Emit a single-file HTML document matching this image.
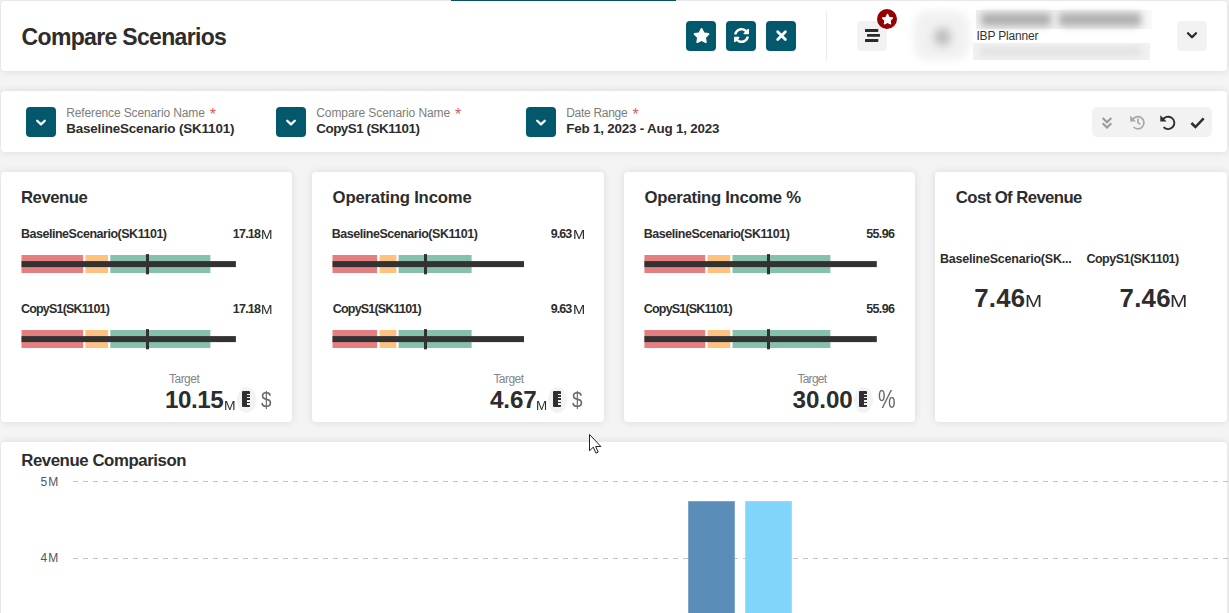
<!DOCTYPE html>
<html lang="en">
<head>
<meta charset="utf-8">
<title>Compare Scenarios</title>
<style>
*{box-sizing:border-box;margin:0;padding:0}
html,body{width:1229px;height:613px;overflow:hidden}
body{background:#f5f4f4;font-family:"Liberation Sans",sans-serif;color:#2d2d2d;position:relative}
.card{position:absolute;background:#fff;border-radius:4px;box-shadow:0 0 8px rgba(0,0,0,.11)}
.abs{position:absolute}
.t{position:absolute;white-space:nowrap;line-height:1}
.btn{position:absolute;width:30px;height:30px;border-radius:4px;background:#04586c}
.gbtn{position:absolute;width:30px;height:30px;border-radius:4px;background:#f2f2f2}
svg{position:absolute;left:0;top:0;overflow:visible}
.red{background:#e57f7f}.org{background:#ffc180}.grn{background:#85c1ab}
.r{position:absolute;height:18px}
.bar{position:absolute;height:6px;background:#323232}
.mk{position:absolute;width:3px;height:20px;background:#323232}
.ic{position:absolute;width:19px;height:26px;border-radius:9.5px/13px;background:#f3f3f3}
.ic b{position:absolute;left:5px;top:4px;width:8.4px;height:16.2px;background:#2f2f2f;border-radius:1px}
.ic i{position:absolute;left:9.9px;width:3.6px;height:1.5px;background:#f3f3f3}
.ast{position:absolute;white-space:nowrap;line-height:1;font-size:16px;color:#dc5a56}
</style>
</head>
<body>
<!-- top tab indicator -->
<div class="abs" style="left:451px;top:0;width:225px;height:1.5px;background:#04586c"></div>
<!-- header card -->
<div class="card" style="left:1px;top:1px;width:1226px;height:70px"></div>
<div class="btn" style="left:686px;top:21px"><svg width="30" height="30" viewBox="0 0 30 30"><g transform="translate(7.1,7.05) scale(0.0293)"><path fill="#fff" d="M259.3 17.8L194 150.2 47.9 171.5c-26.2 3.8-36.700 36.100-17.700 54.600l105.700 103-25 145.500c-4.500 26.300 23.200 46 46.400 33.700L288 439.600l130.700 68.700c23.200 12.200 50.900-7.400 46.400-33.700l-25-145.500 105.700-103c19-18.500 8.500-50.800-17.700-54.600L382 150.200 316.700 17.800c-11.700-23.600-45.600-23.900-57.400 0z"/></g></svg></div>
<div class="btn" style="left:726px;top:21px"><svg width="30" height="30" viewBox="0 0 30 30"><g transform="translate(7.75,6.75) scale(0.0303)"><path fill="#fff" d="M370.72 133.28C339.458 104.008 298.888 87.962 255.848 88c-77.458.068-144.328 53.178-162.791 126.850-1.344 5.363-6.122 9.150-11.651 9.150H24.103c-7.498 0-13.194-6.807-11.807-14.176C33.933 94.924 134.813 8 256 8c66.448 0 126.791 26.136 171.315 68.685L463.030 40.970C478.149 25.851 504 36.559 504 57.941V192c0 13.255-10.745 24-24 24H345.941c-21.382 0-32.090-25.851-16.971-40.971l41.750-41.749zM32 296h134.059c21.382 0 32.090 25.851 16.971 40.971l-41.750 41.750c31.262 29.273 71.835 45.319 114.876 45.280 77.418-.070 144.315-53.144 162.787-126.849 1.344-5.363 6.122-9.150 11.651-9.150h57.304c7.498 0 13.194 6.807 11.807 14.176C478.067 417.076 377.187 504 256 504c-66.448 0-126.791-26.136-171.315-68.685L48.970 471.030C33.851 486.149 8 475.441 8 454.059V320c0-13.255 10.745-24 24-24z"/></g></svg></div>
<div class="btn" style="left:766px;top:21px"><svg width="30" height="30" viewBox="0 0 30 30"><path d="M11.700 10.800L19.400 18.500M19.400 10.800L11.700 18.500" stroke="#fff" stroke-width="2.800" stroke-linecap="round" fill="none"/></svg></div>
<div class="abs" style="left:826px;top:11px;width:1px;height:50px;background:#ececec"></div>
<div class="gbtn" style="left:857px;top:21px"><svg width="30" height="30" viewBox="0 0 30 30"><rect x="8" y="8" width="13.300" height="2.900" rx=".5" fill="#2b2b2b"/><rect x="10" y="12.950" width="13" height="2.900" rx=".5" fill="#2b2b2b"/><rect x="8" y="18.100" width="13.300" height="2.900" rx=".5" fill="#2b2b2b"/></svg></div>
<div class="abs" style="left:877px;top:9px;width:20px;height:20px;border-radius:10px;background:#960000"><svg width="20" height="20" viewBox="0 0 20 20"><g transform="translate(4.460,4.750) scale(0.0210)"><path fill="#fff" d="M259.3 17.8L194 150.2 47.9 171.5c-26.2 3.8-36.700 36.100-17.700 54.600l105.700 103-25 145.500c-4.500 26.300 23.200 46 46.400 33.700L288 439.600l130.700 68.700c23.200 12.200 50.900-7.400 46.400-33.700l-25-145.500 105.700-103c19-18.500 8.500-50.800-17.700-54.600L382 150.200 316.700 17.800c-11.700-23.600-45.600-23.900-57.400 0z"/></g></svg></div>
<div class="abs" style="left:914px;top:11px;width:55px;height:49px;border-radius:14px;background:#f1f1f1;filter:blur(4px)"></div>
<div class="abs" style="left:934px;top:28px;width:17px;height:18px;border-radius:9px;background:#bcbfbd;filter:blur(4px)"></div>
<div class="abs" style="left:976px;top:10px;width:176px;height:18.500px;background:linear-gradient(90deg,#efefef 0,#efefef 92%,#fafafa 100%)"></div>
<div class="abs" style="left:981px;top:13px;width:70px;height:13px;background:#b0b0b0;filter:blur(3.500px);border-radius:4px"></div>
<div class="abs" style="left:1059px;top:13px;width:82px;height:13px;background:#b0b0b0;filter:blur(3.500px);border-radius:4px"></div>
<div class="abs" style="left:973px;top:43px;width:177px;height:16.500px;background:#f1f1f1"></div>
<div class="abs" style="left:980px;top:47px;width:162px;height:9px;background:#e2e2e2;filter:blur(3px);border-radius:3px"></div>
<div class="gbtn" style="left:1177px;top:21px"><svg width="30" height="30" viewBox="0 0 30 30"><path d="M11 12.200L15 16.200L19 12.200" stroke="#2b2b2b" stroke-width="2.300" stroke-linecap="round" stroke-linejoin="round" fill="none"/></svg></div>
<!-- filter card -->
<div class="card" style="left:1px;top:91px;width:1226px;height:61px"></div>
<div class="btn" style="left:26px;top:107px"><svg width="30" height="30" viewBox="0 0 30 30"><path d="M11.200 13.700L15 17.400L18.800 13.700" stroke="#fff" stroke-width="2.200" stroke-linecap="round" stroke-linejoin="round" fill="none"/></svg></div>
<div class="btn" style="left:276px;top:107px"><svg width="30" height="30" viewBox="0 0 30 30"><path d="M11.200 13.700L15 17.400L18.800 13.700" stroke="#fff" stroke-width="2.200" stroke-linecap="round" stroke-linejoin="round" fill="none"/></svg></div>
<div class="btn" style="left:526px;top:107px"><svg width="30" height="30" viewBox="0 0 30 30"><path d="M11.200 13.700L15 17.400L18.800 13.700" stroke="#fff" stroke-width="2.200" stroke-linecap="round" stroke-linejoin="round" fill="none"/></svg></div>
<div class="ast" style="left:209.70000000000002px;top:106.500px">*</div>
<div class="ast" style="left:455.0px;top:106.500px">*</div>
<div class="ast" style="left:632.4px;top:106.500px">*</div>
<div class="abs" style="left:1092px;top:107px;width:120px;height:30px;border-radius:5px;background:#f2f2f2"></div>
<svg width="1229" height="613" viewBox="0 0 1229 613" style="pointer-events:none">
<path d="M1102.700 118L1107 122.200L1111.300 118M1102.700 123.300L1107 127.500L1111.300 123.300" stroke="#9a9a9a" stroke-width="2.100" fill="none" stroke-linejoin="miter"/>
<path d="M1132.300 120.200A6.100 6.100 0 1 1 1133.500 127" stroke="#a8a8a8" stroke-width="1.700" fill="none"/><path d="M1130.200 115.600L1130.200 121.400L1136 121.400Z" fill="#a8a8a8"/><path d="M1138 118.600L1138 122.600L1140.400 124.400" stroke="#a8a8a8" stroke-width="1.600" fill="none"/>
<path d="M1162.600 120.200A6.200 6.200 0 1 1 1163.600 127.100" stroke="#2e2e2e" stroke-width="1.900" fill="none"/><path d="M1160.300 115.200L1160.300 121.500L1166.600 121.500Z" fill="#2e2e2e"/>
<path d="M1191.400 123L1195.400 127L1203.700 118.400" stroke="#2e2e2e" stroke-width="2.500" fill="none"/>
</svg>
<!-- KPI cards -->
<div class="card" style="left:1px;top:172px;width:291px;height:250px"></div>
<div class="card" style="left:312px;top:172px;width:292px;height:250px"></div>
<div class="card" style="left:624px;top:172px;width:291px;height:250px"></div>
<div class="card" style="left:935px;top:172px;width:292px;height:250px"></div>
<svg width="1229" height="613" viewBox="0 0 1229 613" style="pointer-events:none">
<rect x="21.5" y="255" width="61.7" height="18" fill="#e57f7f"/><rect x="85.4" y="255" width="22.7" height="18" fill="#ffc180"/><rect x="110.3" y="255" width="100.1" height="18" fill="#85c1ab"/><rect x="21.5" y="261.1" width="214.4" height="6" fill="#323232"/><rect x="146" y="254.1" width="3" height="20.200" fill="#323232"/>
<rect x="21.5" y="330" width="61.7" height="18" fill="#e57f7f"/><rect x="85.4" y="330" width="22.7" height="18" fill="#ffc180"/><rect x="110.3" y="330" width="100.1" height="18" fill="#85c1ab"/><rect x="21.5" y="336.1" width="214.4" height="6" fill="#323232"/><rect x="146" y="329.1" width="3" height="20.200" fill="#323232"/>
<rect x="332.5" y="255" width="44.6" height="18" fill="#e57f7f"/><rect x="379.6" y="255" width="16.8" height="18" fill="#ffc180"/><rect x="398.6" y="255" width="73.0" height="18" fill="#85c1ab"/><rect x="332.5" y="261.1" width="191.5" height="6" fill="#323232"/><rect x="424" y="254.1" width="3" height="20.200" fill="#323232"/>
<rect x="332.5" y="330" width="44.6" height="18" fill="#e57f7f"/><rect x="379.6" y="330" width="16.8" height="18" fill="#ffc180"/><rect x="398.6" y="330" width="73.0" height="18" fill="#85c1ab"/><rect x="332.5" y="336.1" width="191.5" height="6" fill="#323232"/><rect x="424" y="329.1" width="3" height="20.200" fill="#323232"/>
<rect x="644.4" y="255" width="60.8" height="18" fill="#e57f7f"/><rect x="707.6" y="255" width="22.7" height="18" fill="#ffc180"/><rect x="732.5" y="255" width="97.9" height="18" fill="#85c1ab"/><rect x="644.4" y="261.1" width="232.4" height="6" fill="#323232"/><rect x="767" y="254.1" width="3" height="20.200" fill="#323232"/>
<rect x="644.4" y="330" width="60.8" height="18" fill="#e57f7f"/><rect x="707.6" y="330" width="22.7" height="18" fill="#ffc180"/><rect x="732.5" y="330" width="97.9" height="18" fill="#85c1ab"/><rect x="644.4" y="336.1" width="232.4" height="6" fill="#323232"/><rect x="767" y="329.1" width="3" height="20.200" fill="#323232"/>
</svg>
<div class="ic" style="left:237px;top:387px"><b></b><i style="top:6.800px"></i><i style="top:9.900px"></i><i style="top:13px"></i><i style="top:16.100px"></i></div>
<div class="ic" style="left:548px;top:387px"><b></b><i style="top:6.800px"></i><i style="top:9.900px"></i><i style="top:13px"></i><i style="top:16.100px"></i></div>
<div class="ic" style="left:854px;top:387px"><b></b><i style="top:6.800px"></i><i style="top:9.900px"></i><i style="top:13px"></i><i style="top:16.100px"></i></div>
<!-- chart card -->
<div class="card" style="left:1px;top:442px;width:1226px;height:200px"></div>
<svg width="1229" height="613" viewBox="0 0 1229 613" style="pointer-events:none">
<line x1="73" y1="481.500" x2="1229" y2="481.500" stroke="#c4c4c4" stroke-width="1" stroke-dasharray="5 5"/>
<line x1="73" y1="558.500" x2="1229" y2="558.500" stroke="#c4c4c4" stroke-width="1" stroke-dasharray="5 5"/>
<rect x="688.500" y="501.500" width="46" height="120" fill="#5b8db9" stroke="#7ea6ca" stroke-width="1"/>
<rect x="745.500" y="501.500" width="46" height="120" fill="#81d4fa" stroke="#9bdcfb" stroke-width="1"/>
<path d="M589.500 434.500L589.500 450.700L593.300 447.200L595.900 453.100L598.200 452.100L595.700 446.500L600.900 446.500Z" fill="#fff" stroke="#222" stroke-width="1" stroke-linejoin="round"/>
</svg>

<!-- text -->
<div class="t" id="title" style="left:21.60px;top:26.00px;font-size:23px;font-weight:bold;color:#2d2d2d;letter-spacing:-0.675px;">Compare Scenarios</div>
<div class="t" id="fl1" style="left:66.20px;top:107.00px;font-size:12px;font-weight:normal;color:#7d7d7d;letter-spacing:-0.123px;">Reference Scenario Name</div>
<div class="t" id="fl2" style="left:316.20px;top:107.00px;font-size:12px;font-weight:normal;color:#7d7d7d;letter-spacing:-0.070px;">Compare Scenario Name</div>
<div class="t" id="fl3" style="left:566.20px;top:107.00px;font-size:12px;font-weight:normal;color:#7d7d7d;letter-spacing:-0.289px;">Date Range</div>
<div class="t" id="fv1" style="left:66.20px;top:122.00px;font-size:13.4px;font-weight:bold;color:#2d2d2d;letter-spacing:-0.154px;">BaselineScenario (SK1101)</div>
<div class="t" id="fv2" style="left:316.20px;top:122.00px;font-size:13.4px;font-weight:bold;color:#2d2d2d;letter-spacing:-0.450px;">CopyS1 (SK1101)</div>
<div class="t" id="fv3" style="left:566.20px;top:122.00px;font-size:13.4px;font-weight:bold;color:#2d2d2d;letter-spacing:-0.196px;">Feb 1, 2023 - Aug 1, 2023</div>
<div class="t" id="ibp" style="left:976.40px;top:30.00px;font-size:12px;font-weight:normal;color:#333;letter-spacing:-0.170px;">IBP Planner</div>
<div class="t" id="kt1" style="left:21.00px;top:190.00px;font-size:16.7px;font-weight:bold;color:#2d2d2d;letter-spacing:-0.467px;">Revenue</div>
<div class="t" id="kt2" style="left:332.60px;top:190.00px;font-size:16.7px;font-weight:bold;color:#2d2d2d;letter-spacing:-0.187px;">Operating Income</div>
<div class="t" id="kt3" style="left:644.60px;top:190.00px;font-size:16.7px;font-weight:bold;color:#2d2d2d;letter-spacing:-0.288px;">Operating Income %</div>
<div class="t" id="kt4" style="left:955.80px;top:190.00px;font-size:16.7px;font-weight:bold;color:#2d2d2d;letter-spacing:-0.564px;">Cost Of Revenue</div>
<div class="t" id="kl0a" style="left:21.00px;top:228.00px;font-size:12.5px;font-weight:bold;color:#2d2d2d;letter-spacing:-0.478px;">BaselineScenario(SK1101)</div>
<div class="t" id="kl0b" style="left:21.00px;top:303.00px;font-size:12.5px;font-weight:bold;color:#2d2d2d;letter-spacing:-0.808px;">CopyS1(SK1101)</div>
<div class="t" id="kl1a" style="left:331.80px;top:228.00px;font-size:12.5px;font-weight:bold;color:#2d2d2d;letter-spacing:-0.478px;">BaselineScenario(SK1101)</div>
<div class="t" id="kl1b" style="left:332.80px;top:303.00px;font-size:12.5px;font-weight:bold;color:#2d2d2d;letter-spacing:-0.808px;">CopyS1(SK1101)</div>
<div class="t" id="kl2a" style="left:643.80px;top:228.00px;font-size:12.5px;font-weight:bold;color:#2d2d2d;letter-spacing:-0.478px;">BaselineScenario(SK1101)</div>
<div class="t" id="kl2b" style="left:643.80px;top:303.00px;font-size:12.5px;font-weight:bold;color:#2d2d2d;letter-spacing:-0.808px;">CopyS1(SK1101)</div>
<div class="t" id="kl3a" style="left:940.00px;top:253.00px;font-size:12.5px;font-weight:bold;color:#2d2d2d;letter-spacing:-0.210px;">BaselineScenario(SK...</div>
<div class="t" id="kl3b" style="left:1086.40px;top:253.00px;font-size:12.5px;font-weight:bold;color:#2d2d2d;letter-spacing:-0.500px;">CopyS1(SK1101)</div>
<div class="t" id="kv0a" style="left:232.80px;top:228.00px;font-size:12.5px;font-weight:bold;color:#2d2d2d;letter-spacing:-0.775px;">17.18</div>
<div class="t" id="km0a" style="left:261.00px;top:229.00px;font-size:12.4px;font-weight:normal;color:#2d2d2d;transform:scaleX(1.111);transform-origin:0 0;">M</div>
<div class="t" id="kv1a" style="left:550.80px;top:228.00px;font-size:12.5px;font-weight:bold;color:#2d2d2d;letter-spacing:-0.933px;">9.63</div>
<div class="t" id="km1a" style="left:572.60px;top:229.00px;font-size:12.4px;font-weight:normal;color:#2d2d2d;transform:scaleX(1.179);transform-origin:0 0;">M</div>
<div class="t" id="kv2a" style="left:866.20px;top:228.00px;font-size:12.5px;font-weight:bold;color:#2d2d2d;letter-spacing:-0.625px;">55.96</div>
<div class="t" id="kv0b" style="left:232.80px;top:303.00px;font-size:12.5px;font-weight:bold;color:#2d2d2d;letter-spacing:-0.775px;">17.18</div>
<div class="t" id="km0b" style="left:261.00px;top:304.00px;font-size:12.4px;font-weight:normal;color:#2d2d2d;transform:scaleX(1.111);transform-origin:0 0;">M</div>
<div class="t" id="kv1b" style="left:550.80px;top:303.00px;font-size:12.5px;font-weight:bold;color:#2d2d2d;letter-spacing:-0.933px;">9.63</div>
<div class="t" id="km1b" style="left:572.60px;top:304.00px;font-size:12.4px;font-weight:normal;color:#2d2d2d;transform:scaleX(1.179);transform-origin:0 0;">M</div>
<div class="t" id="kv2b" style="left:866.20px;top:303.00px;font-size:12.5px;font-weight:bold;color:#2d2d2d;letter-spacing:-0.625px;">55.96</div>
<div class="t" id="tg0" style="left:169.00px;top:373.00px;font-size:12px;font-weight:normal;color:#858585;letter-spacing:-0.520px;">Target</div>
<div class="t" id="tg1" style="left:493.40px;top:373.00px;font-size:12px;font-weight:normal;color:#858585;letter-spacing:-0.540px;">Target</div>
<div class="t" id="tg2" style="left:797.40px;top:373.00px;font-size:12px;font-weight:normal;color:#858585;letter-spacing:-0.720px;">Target</div>
<div class="t" id="tv0" style="left:165.00px;top:388.00px;font-size:24.2px;font-weight:bold;color:#2d2d2d;letter-spacing:-0.450px;">10.15</div>
<div class="t" id="tv1" style="left:490.00px;top:388.00px;font-size:24.2px;font-weight:bold;color:#2d2d2d;letter-spacing:-0.100px;">4.67</div>
<div class="t" id="tv2" style="left:792.60px;top:388.00px;font-size:24.2px;font-weight:bold;color:#2d2d2d;letter-spacing:-0.075px;">30.00</div>
<div class="t" id="tm0" style="left:224.00px;top:400.00px;font-size:12.5px;font-weight:normal;color:#2d2d2d;transform:scaleX(1.111);transform-origin:0 0;">M</div>
<div class="t" id="tm1" style="left:536.20px;top:400.00px;font-size:12.5px;font-weight:normal;color:#2d2d2d;transform:scaleX(1.072);transform-origin:0 0;">M</div>
<div class="t" id="un0" style="left:261.00px;top:390.00px;font-size:21.5px;font-weight:normal;color:#6a6a6a;transform:scaleX(0.877);transform-origin:0 0;">$</div>
<div class="t" id="un1" style="left:572.20px;top:390.00px;font-size:21.5px;font-weight:normal;color:#6a6a6a;transform:scaleX(0.877);transform-origin:0 0;">$</div>
<div class="t" id="un2" style="left:878.20px;top:387.00px;font-size:25px;font-weight:normal;color:#6a6a6a;transform:scaleX(0.792);transform-origin:0 0;">%</div>
<div class="t" id="cv0" style="left:974.20px;top:286.00px;font-size:25.8px;font-weight:bold;color:#2d2d2d;letter-spacing:0.233px;">7.46</div>
<div class="t" id="cm0" style="left:1024.80px;top:293.00px;font-size:16.2px;font-weight:normal;color:#2d2d2d;transform:scaleX(1.270);transform-origin:0 0;">M</div>
<div class="t" id="cv1" style="left:1119.60px;top:286.00px;font-size:25.8px;font-weight:bold;color:#2d2d2d;letter-spacing:0.233px;">7.46</div>
<div class="t" id="cm1" style="left:1170.00px;top:293.00px;font-size:16.2px;font-weight:normal;color:#2d2d2d;transform:scaleX(1.289);transform-origin:0 0;">M</div>
<div class="t" id="cht" style="left:21.20px;top:453.00px;font-size:16.8px;font-weight:bold;color:#2d2d2d;letter-spacing:-0.424px;">Revenue Comparison</div>
<div class="t" id="ax5" style="left:40.40px;top:476.00px;font-size:12px;font-weight:normal;color:#555;letter-spacing:1.100px;">5M</div>
<div class="t" id="ax4" style="left:40.40px;top:552.00px;font-size:12px;font-weight:normal;color:#555;letter-spacing:1.100px;">4M</div>
</body>
</html>
